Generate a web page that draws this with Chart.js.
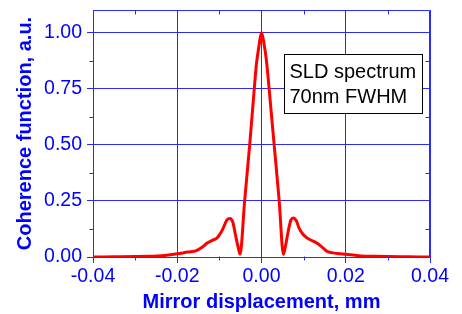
<!DOCTYPE html>
<html><head><meta charset="utf-8">
<script src="https://cdn.jsdelivr.net/npm/chart.js@4/dist/chart.umd.min.js"></script>
<style>html,body{margin:0;padding:0;background:#fff;overflow:hidden}#wrap{width:462px;height:314px;position:relative}</style>
</head><body><div id="wrap"><canvas id="c" width="462" height="314"></canvas></div>
<script>
const displacement = [-0.040,-0.035,-0.030,-0.027,-0.023,-0.020,-0.0175,-0.0156,-0.0140,-0.0129,
  -0.0116,-0.0105,-0.0093,-0.0082,-0.0075,-0.0068,-0.0062,-0.0055,-0.0051,-0.0040,
  -0.0028,-0.0018,-0.0012,-0.0006,0,0.0006,0.0012,0.0019,0.0030,0.0042,
  0.0052,0.0057,0.0064,0.0070,0.0076,0.0083,0.0089,0.0099,0.0109,0.0121,
  0.0133,0.0145,0.0157,0.0180,0.0200,0.0236,0.0270,0.0300,0.0350,0.0400];
const coherence = [0.000,0.001,0.002,0.003,0.007,0.014,0.022,0.027,0.045,0.062,
  0.075,0.086,0.120,0.165,0.172,0.155,0.100,0.040,0.012,0.250,
  0.500,0.730,0.860,0.940,1.000,0.950,0.870,0.730,0.500,0.250,
  0.012,0.050,0.120,0.165,0.174,0.160,0.130,0.100,0.084,0.072,
  0.060,0.042,0.024,0.016,0.012,0.005,0.003,0.002,0.001,0.000];
const xTicks = [-0.04,-0.02,0,0.02,0.04];
const yTicks = [0,0.25,0.5,0.75,1.0];
const xMinor = [-0.03,-0.01,0.01,0.03];
const yMinor = [0.125,0.375,0.625,0.875];
const noteLines = ['SLD spectrum','70nm FWHM'];
const xTitle = 'Mirror displacement, mm';
const yTitle = 'Coherence function, a.u.';

const BLUE = '#0000ff';
const GRID = '#2a2aff';

const extras = {
  id:'extras',
  afterDatasetsDraw(chart){
    const {ctx, chartArea:a, scales:{x,y}} = chart;
    ctx.save();
    ctx.strokeStyle = GRID; ctx.lineWidth = 1;
    const L = Math.round(a.left)+0.5, R = Math.round(a.right)-0.5, T = Math.round(a.top)+0.5, B = Math.round(a.bottom)-0.5;
    ctx.beginPath();
    ctx.moveTo(L,T); ctx.lineTo(R,T); ctx.lineTo(R,B);
    yMinor.forEach(v=>{const p=Math.round(y.getPixelForValue(v))+0.5;
      ctx.moveTo(L-4,p); ctx.lineTo(L,p); ctx.moveTo(R-4,p); ctx.lineTo(R,p);});
    xMinor.forEach(v=>{const p=Math.round(x.getPixelForValue(v))+0.5;
      ctx.moveTo(p,B); ctx.lineTo(p,B+4); ctx.moveTo(p,T); ctx.lineTo(p,T+4);});
    ctx.stroke();
    // annotation box
    const bx0 = Math.round(x.getPixelForValue(0.0053))+0.5, bx1 = Math.round(x.getPixelForValue(0.0380))+0.5;
    const by0 = Math.round(y.getPixelForValue(0.902))+0.5, by1 = Math.round(y.getPixelForValue(0.640))+0.5;
    ctx.fillStyle = '#fff'; ctx.fillRect(bx0,by0,bx1-bx0,by1-by0);
    ctx.strokeStyle = '#000'; ctx.strokeRect(bx0,by0,bx1-bx0,by1-by0);
    ctx.fillStyle = '#000'; ctx.font = '20px "Liberation Sans", Arial, sans-serif';
    ctx.textBaseline = 'alphabetic'; ctx.textAlign = 'left';
    noteLines.forEach((t,i)=>ctx.fillText(t, bx0+5, by0+23+i*25));
    ctx.restore();
  }
};

new Chart(document.getElementById('c'), {
  type:'line',
  data:{ datasets:[{ data: displacement.map((d,i)=>({x:d,y:coherence[i]})),
    borderColor:'#ff0000', borderWidth:3, pointRadius:0, fill:false,
    cubicInterpolationMode:'monotone' }]},
  options:{
    responsive:false, animation:false, devicePixelRatio:1,
    layout:{padding:{left:0,right:32,top:10,bottom:0}},
    plugins:{legend:{display:false}, tooltip:{enabled:false}},
    scales:{
      x:{ type:'linear', min:-0.04, max:0.04,
        afterBuildTicks(s){ s.ticks = xTicks.map(v=>({value:v})); },
        afterFit(s){ s.height = 57; s.paddingLeft = 0; s.paddingRight = 0; },
        grid:{color:GRID, tickLength:6, drawTicks:true},
        border:{color:GRID},
        ticks:{color:BLUE, padding:2, maxRotation:0, font:{family:'"Liberation Sans", Arial', size:19.5},
          callback:v=>v.toFixed(2)},
        title:{display:true, text:xTitle, color:BLUE, padding:{top:0,bottom:0},
          font:{family:'"Liberation Sans", Arial', size:20, weight:'bold'}}
      },
      y:{ min:0, max:1.1,
        afterBuildTicks(s){ s.ticks = yTicks.map(v=>({value:v})); },
        afterFit(s){ s.width = 93; s.paddingTop = 0; s.paddingBottom = 0; },
        grid:{color:GRID, tickLength:6, drawTicks:true},
        border:{color:GRID},
        ticks:{color:BLUE, padding:5, font:{family:'"Liberation Sans", Arial', size:19.5},
          callback:v=>v.toFixed(2)},
        title:{display:true, text:yTitle, color:BLUE, padding:{top:13,bottom:0},
          font:{family:'"Liberation Sans", Arial', size:20, weight:'bold'}}
      }
    }
  },
  plugins:[extras]
});
</script></body></html>
